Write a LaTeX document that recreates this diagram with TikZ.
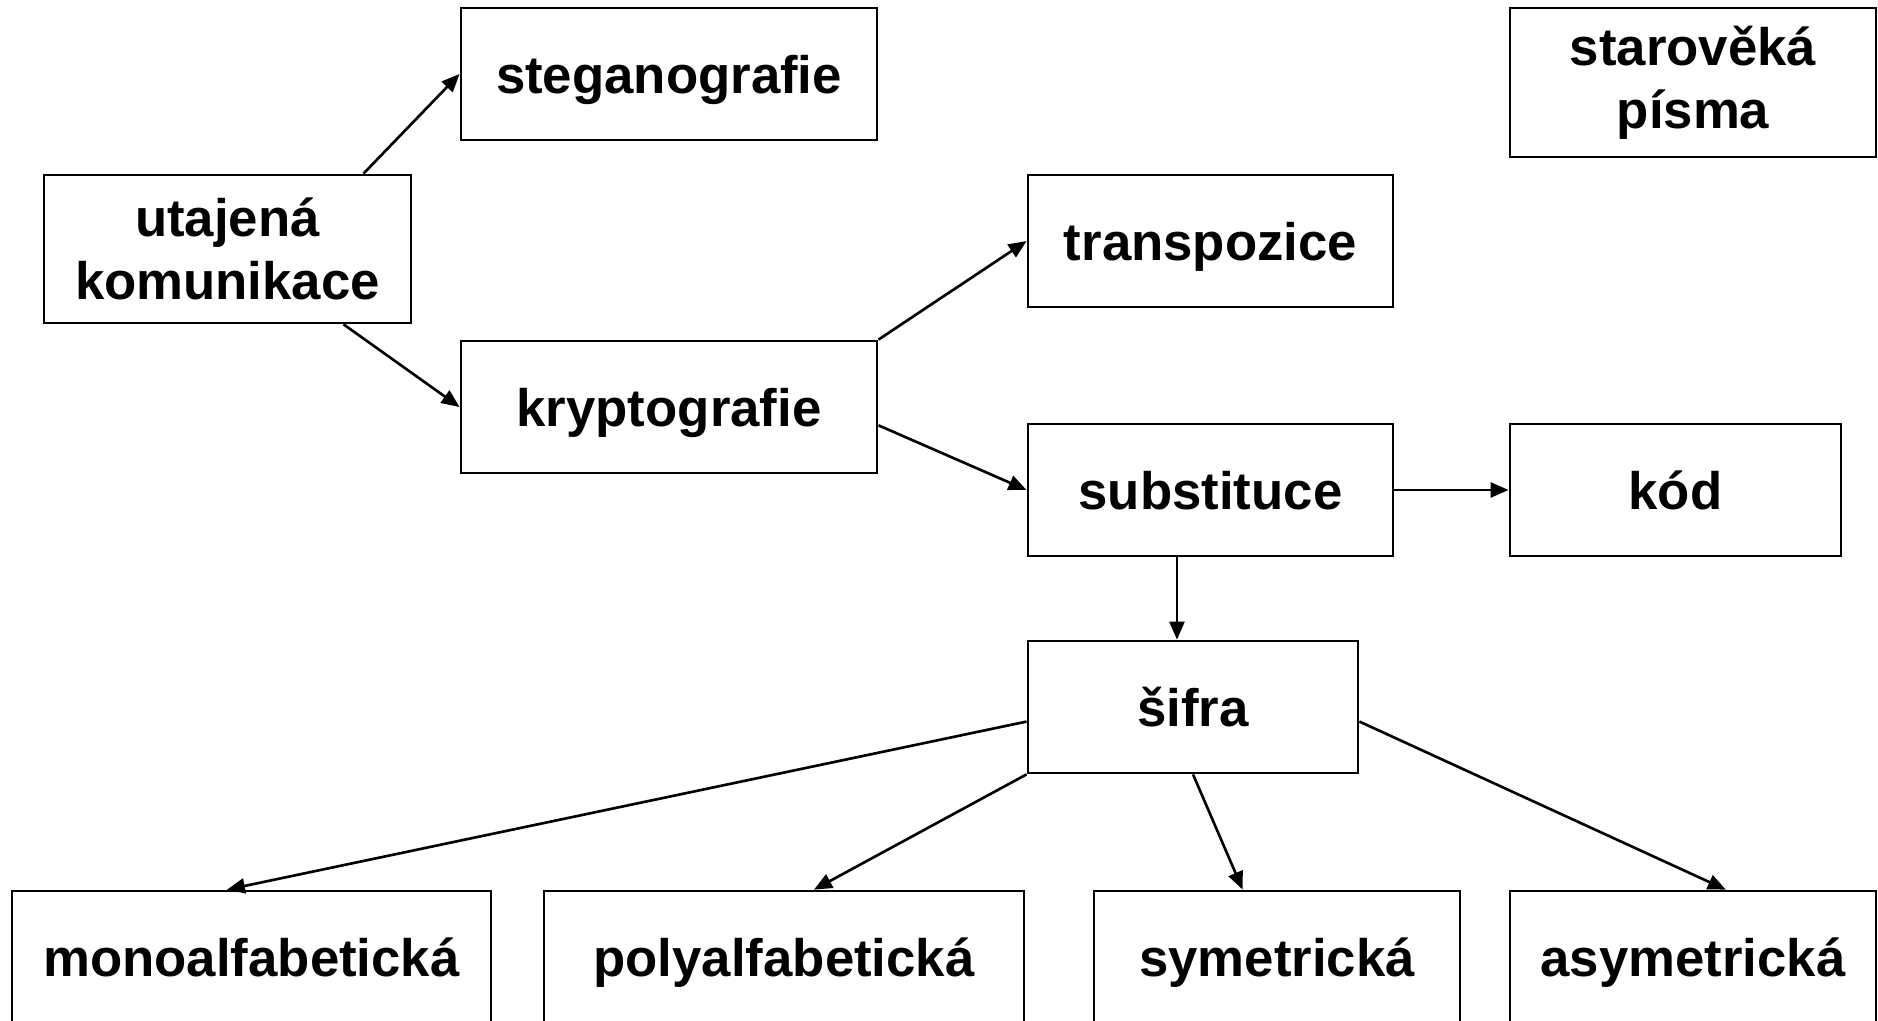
\documentclass[tikz,border=0pt]{standalone}
\usepackage{fontspec}
\setmainfont{Liberation Sans}
\usetikzlibrary{arrows.meta}
\begin{document}
\begin{tikzpicture}[x=0.01cm, y=-0.01cm,
  pole/.style={draw, line width=0.75pt, rectangle, inner sep=0pt, align=center, minimum height=1.32cm, font=\fontsize{15}{18}\selectfont\bfseries},
  radek/.style={pole, text depth=0pt},
  sipka/.style={-{Triangle[length=0.18cm,width=0.15cm]}, line width=0.75pt}]
\useasboundingbox (0,0) rectangle (1878,1021);
\node[radek, minimum width=4.16cm] (steg) at (669,74){steganografie};
\node[pole, minimum width=3.67cm, minimum height=1.48cm] (utaj) at (227.5,249){utajená\\komunikace};
\node[pole, minimum width=3.66cm, minimum height=1.49cm] (star) at (1693,82.5){starověká\\písma};
\node[radek, minimum width=3.65cm] (trans) at (1210.5,241){transpozice};
\node[radek, minimum width=4.16cm] (kryp) at (669,407){kryptografie};
\node[radek, minimum width=3.65cm] (subst) at (1210.5,490){substituce};
\node[radek, minimum width=3.31cm] (kod) at (1675.5,490){kód};
\node[radek, minimum width=3.30cm] (sifra) at (1193,707){šifra};
\node[radek, minimum width=4.79cm] (mono) at (251.5,957){monoalfabetická};
\node[radek, minimum width=4.80cm] (poly) at (784,957){polyalfabetická};
\node[radek, minimum width=3.66cm] (sym) at (1277,957){symetrická};
\node[radek, minimum width=3.66cm] (asym) at (1693,957){asymetrická};
\draw[sipka](utaj.29) -- (steg.west);
\draw[sipka](utaj.-33) -- (kryp.west);
\draw[sipka](kryp.north east) -- (trans.west);
\draw[sipka](kryp.-5) -- (subst.west);
\draw[sipka](subst.east) -- (kod.west);
\draw[sipka]([xshift=-0.335cm]subst.south) -- ([xshift=-0.335cm]subst.south |- sifra.north);
\draw[sipka](sifra.185) -- (mono.110);
\draw[sipka](sifra.south west) -- (poly.66);
\draw[sipka](sifra.south) -- (sym.117);
\draw[sipka](sifra.-5.5) -- (asym.64);
\end{tikzpicture}
\end{document}
